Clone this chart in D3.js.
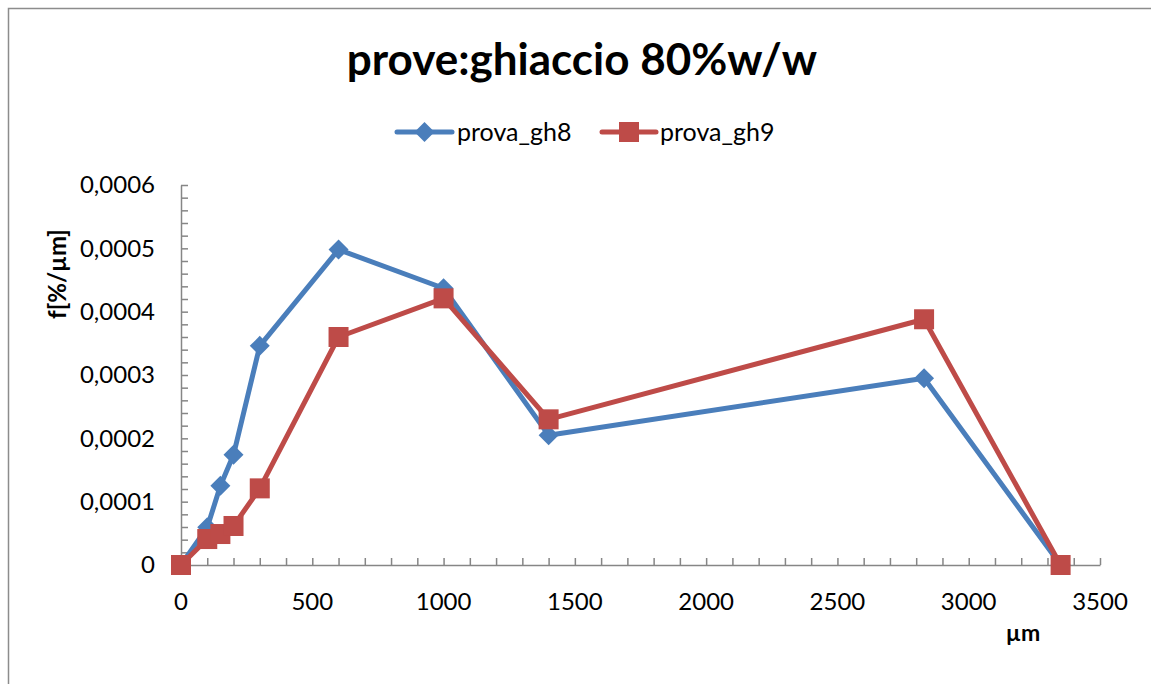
<!DOCTYPE html>
<html>
<head>
<meta charset="utf-8">
<script src="https://cdn.jsdelivr.net/npm/d3@7"></script>
<style>
  html, body { margin: 0; padding: 0; background: #fff; }
  svg { display: block; font-family: Lato, "Open Sans", sans-serif; }
</style>
</head>
<body>
<svg id="chart" width="1151" height="684"></svg>
<script>
// Sieve sizes (µm) and frequency per µm for the two ice tests
const sizes = [0, 100, 150, 200, 300, 600, 1000, 1400, 2830, 3350];
const gh8 = [0, 0.0000595, 0.000125, 0.000174, 0.000346, 0.000498, 0.000437, 0.000205, 0.000295, 0];
const gh9 = [0, 0.0000410, 0.0000489, 0.0000616, 0.000121, 0.000360, 0.000421, 0.000230, 0.000388, 0];
const seriesNames = ["prova_gh8", "prova_gh9"];
const xTicks = [0, 500, 1000, 1500, 2000, 2500, 3000, 3500];
const yTicks = [0, 0.0001, 0.0002, 0.0003, 0.0004, 0.0005, 0.0006];
const titleText = "prove:ghiaccio 80%w/w";
const xTitle = "µm";
const yTitle = "f[%/µm]";

const blue = "#4a7ebb", red = "#be4b48", axisGray = "#868686";
const svg = d3.select("#chart");

// outer chart frame
svg.append("rect").attr("x", 8.5).attr("y", 8.5).attr("width", 1200).attr("height", 800)
  .attr("fill", "none").attr("stroke", "#8c8c8c").attr("stroke-width", 1.5);

const x = d3.scaleLinear().domain([0, 3500]).range([181, 1100]);
const y = d3.scaleLinear().domain([0, 0.0006]).range([565, 185]);

// minor tick grids
const xMinor = d3.range(0, 3501, 100);
const yMinor = d3.range(0, 31).map(i => i * 0.00002);

const xAxis = d3.axisBottom(x).tickValues(xMinor).tickSizeInner(-7).tickSizeOuter(0).tickFormat("");
const gx = svg.append("g").attr("transform", `translate(0,${y(0)})`).call(xAxis);
const yAxis = d3.axisLeft(y).tickValues(yMinor).tickSizeInner(-7).tickSizeOuter(0).tickFormat("");
const gy = svg.append("g").attr("transform", `translate(${x(0)},0)`).call(yAxis);
[gx, gy].forEach(g => {
  g.selectAll("path, line").attr("stroke", axisGray).attr("stroke-width", 1.5);
});

// tick labels
const fmtY = v => v === 0 ? "0" : v.toFixed(4).replace(".", ",");
svg.append("g").selectAll("text").data(xTicks).join("text")
  .attr("x", d => x(d)).attr("y", 610).attr("text-anchor", "middle")
  .attr("font-size", 24).attr("fill", "#000").text(d => d);
svg.append("g").selectAll("text").data(yTicks).join("text")
  .attr("x", 155).attr("y", d => y(d)).attr("dy", "0.35em").attr("text-anchor", "end")
  .attr("font-size", 24).attr("fill", "#000").text(fmtY);

// titles
svg.append("text").attr("x", 582).attr("y", 75).attr("text-anchor", "middle")
  .attr("font-size", 44).attr("font-weight", "bold").text(titleText);
svg.append("text").attr("x", 1023).attr("y", 641).attr("text-anchor", "middle")
  .attr("font-size", 23).attr("font-weight", "bold").text(xTitle);
svg.append("text").attr("transform", "translate(66,274) rotate(-90)").attr("text-anchor", "middle")
  .attr("font-size", 24).attr("font-weight", "bold").text(yTitle);

// series lines and markers
const line = d3.line().x(d => x(d[0])).y(d => y(d[1]));
const series = [
  { name: seriesNames[0], vals: gh8, color: blue, marker: "diamond" },
  { name: seriesNames[1], vals: gh9, color: red, marker: "square" }
];
const diamond = (cx, cy, r) => `M${cx},${cy - r}L${cx + r},${cy}L${cx},${cy + r}L${cx - r},${cy}Z`;

function drawMarker(g, kind, cx, cy, color) {
  if (kind === "diamond") {
    g.append("path").attr("d", diamond(cx, cy, 10)).attr("fill", color);
  } else {
    g.append("rect").attr("x", cx - 10).attr("y", cy - 10).attr("width", 20).attr("height", 20).attr("fill", color);
  }
}

series.forEach(s => {
  const pts = sizes.map((v, i) => [v, s.vals[i]]);
  const g = svg.append("g");
  g.append("path").datum(pts).attr("d", line).attr("fill", "none")
    .attr("stroke", s.color).attr("stroke-width", 5).attr("stroke-linejoin", "round");
  pts.forEach(p => drawMarker(g, s.marker, x(p[0]), y(p[1]), s.color));
});

// legend
const legendItems = [
  { x0: 397, x1: 452, tx: 457 },
  { x0: 602, x1: 656, tx: 660 }
];
series.forEach((s, i) => {
  const L = legendItems[i];
  const g = svg.append("g");
  g.append("line").attr("x1", L.x0).attr("x2", L.x1).attr("y1", 132).attr("y2", 132)
    .attr("stroke", s.color).attr("stroke-width", 5).attr("stroke-linecap", "round");
  drawMarker(g, s.marker, (L.x0 + L.x1) / 2, 132, s.color);
  g.append("text").attr("x", L.tx).attr("y", 132).attr("dy", "0.35em")
    .attr("font-size", 25).text(s.name);
});
</script>
</body>
</html>
